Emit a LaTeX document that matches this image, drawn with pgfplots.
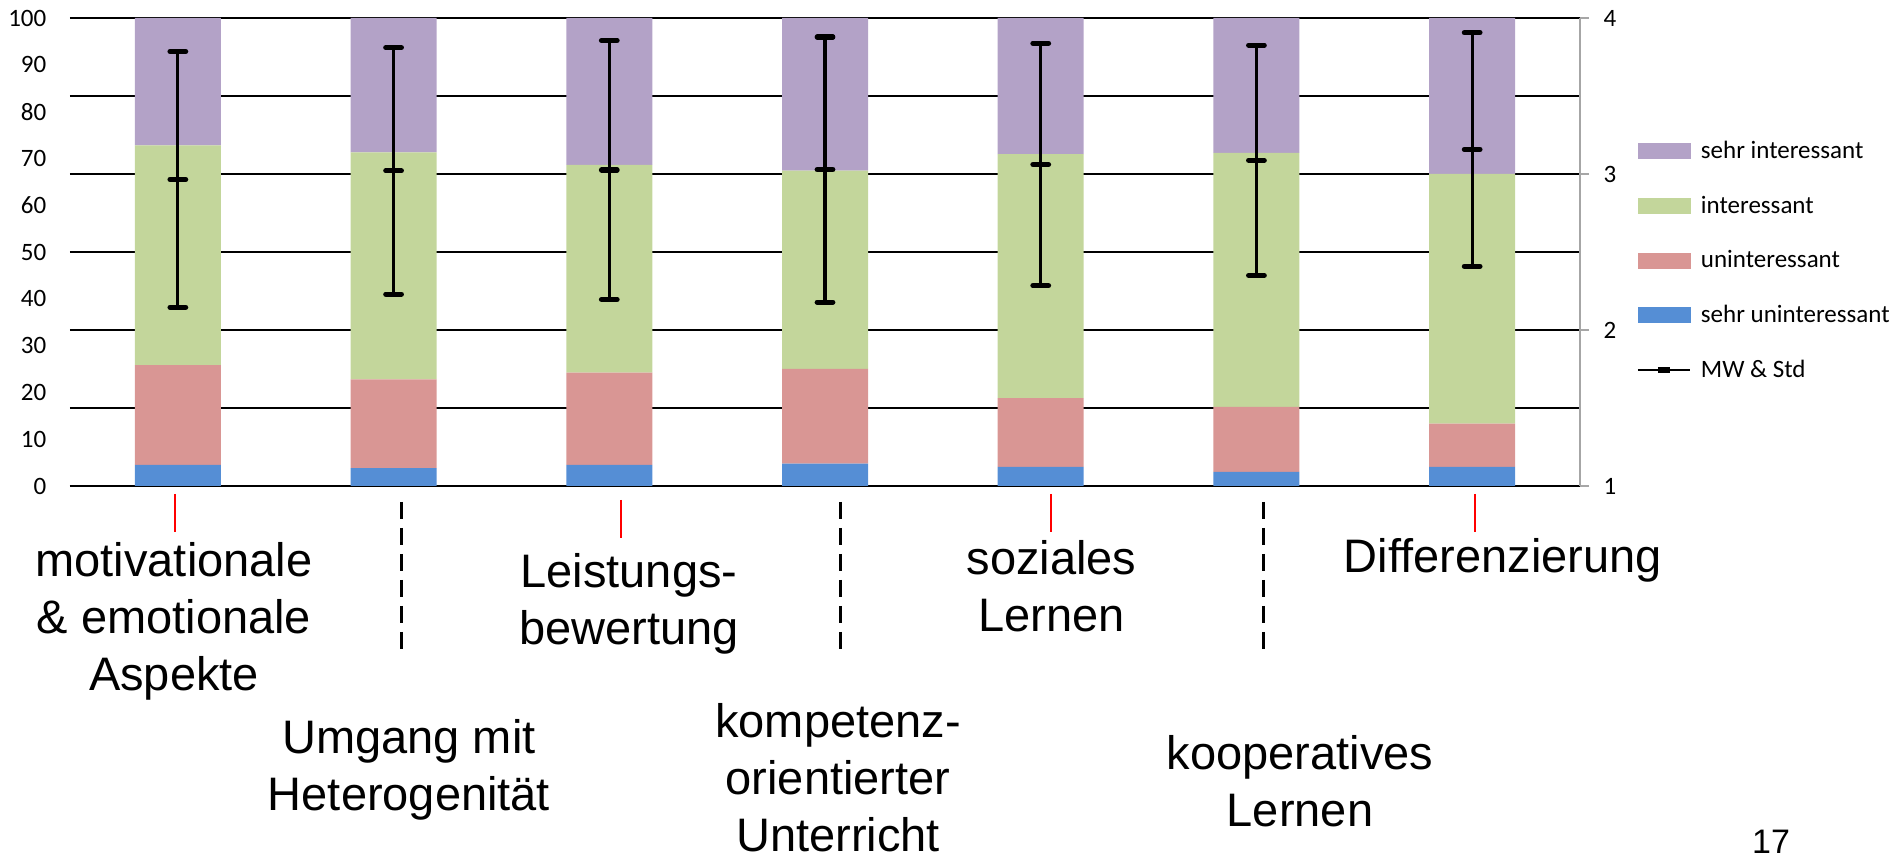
\documentclass[border=0pt]{standalone}
\usepackage{fontspec}
\setmainfont{Carlito}
\newfontfamily\labfont{Liberation Sans}
\usepackage{pgfplots}
\pgfplotsset{compat=1.18}
\definecolor{cpurple}{HTML}{B3A2C7}
\definecolor{cgreen}{HTML}{C3D69B}
\definecolor{cred}{HTML}{D99694}
\definecolor{cblue}{HTML}{558ED5}
\definecolor{caxis}{HTML}{A6A6A6}
\begin{document}
\begin{tikzpicture}
\useasboundingbox (-35pt,-187pt) rectangle (915.5pt,243pt);
\begin{axis}[
  at={(0,0)}, anchor=south west,
  width=755pt, height=234pt, scale only axis,
  ybar stacked, bar width=43pt,
  xmin=-0.5, xmax=6.5, ymin=0, ymax=100,
  xtick=\empty,
  ytick={0,10,...,100},
  minor ytick={0,16.6667,33.3333,50,66.6667,83.3333,100},
  minor grid style={black, line width=0.9pt},
  ymajorgrids=false, yminorgrids=true,
  major tick length=0pt, minor tick length=0pt,
  axis x line*=bottom, axis y line*=left,
  x axis line style={black, line width=0.9pt, -},
  y axis line style={draw=none},
  tick label style={font=\fontsize{12.5}{15}\selectfont},
  /pgf/number format/assume math mode=true,
  yticklabel style={xshift=-8.3pt},
  clip=false,
]
\addplot[fill=cblue, draw=none] coordinates {(0,4.5) (1,3.8) (2,4.5) (3,4.8) (4,4.1) (5,3.0) (6,4.1)};
\addplot[fill=cred, draw=none] coordinates {(0,21.3) (1,19.0) (2,19.7) (3,20.2) (4,14.7) (5,13.9) (6,9.2)};
\addplot[fill=cgreen, draw=none] coordinates {(0,47.0) (1,48.5) (2,44.4) (3,42.4) (4,52.1) (5,54.3) (6,53.4)};
\addplot[fill=cpurple, draw=none] coordinates {(0,27.2) (1,28.7) (2,31.4) (3,32.6) (4,29.1) (5,28.8) (6,33.3)};
\end{axis}
\begin{axis}[
  at={(0,0)}, anchor=south west,
  width=755pt, height=234pt, scale only axis,
  xmin=-0.5, xmax=6.5, ymin=1, ymax=4,
  axis x line=none, axis y line*=right,
  y axis line style={color=caxis, line width=0.85pt, -},
  ytick={1,2,3,4},
  ytick style={color=caxis, line width=0.85pt},
  tick align=outside, major tick length=4.5pt,
  tick label style={font=\fontsize{12.5}{15}\selectfont},
  /pgf/number format/assume math mode=true,
  yticklabel style={xshift=3.8pt},
  clip=false,
  legend cell align=left,
  legend style={at={(1.0377,0.7455)}, anchor=north west, draw=none, fill=none,
    inner sep=0pt, outer sep=0pt, row sep=13.2pt,
    font=\fontsize{12.5}{15}\selectfont,
    /tikz/every odd column/.append style={column sep=3pt}},
]
\addlegendimage{legend image code/.code={\fill[cpurple] (0pt,-3.75pt) rectangle (26pt,3.75pt);}}
\addlegendentry{sehr interessant}
\addlegendimage{legend image code/.code={\fill[cgreen] (0pt,-3.75pt) rectangle (26pt,3.75pt);}}
\addlegendentry{interessant}
\addlegendimage{legend image code/.code={\fill[cred] (0pt,-3.75pt) rectangle (26pt,3.75pt);}}
\addlegendentry{uninteressant}
\addlegendimage{legend image code/.code={\fill[cblue] (0pt,-3.75pt) rectangle (26pt,3.75pt);}}
\addlegendentry{sehr uninteressant}
\addplot[black, only marks, mark=-, mark size=3.9pt, mark options={line width=2.6pt, line cap=round},
  legend image code/.code={\draw[black,line width=1pt] (0pt,0pt) -- (26pt,0pt); \draw[black,line width=2.6pt] (10pt,0pt) -- (16pt,0pt);},
  error bars/.cd, y dir=both, y explicit, error mark=|,
  error mark options={black, line width=2.6pt, mark size=3.9pt, line cap=round},
  error bar style={black, line width=1.6pt}]
  table[x=x, y=m, y error=s] {
x m s
0 2.965 0.82
1 3.020 0.79
2 3.026 0.83
3 3.028 0.85
4 3.061 0.777
5 3.088 0.738
6 3.157 0.749
};
\addlegendentry{MW \& Std}
\end{axis}
% decorations under the chart
\foreach \xx/\ya/\yb in {52.5/-4/-23, 275.5/-7/-26, 490.5/-4/-23, 702.5/-4/-23}
  \draw[red, line width=1.25pt] (\xx pt,\ya pt) -- (\xx pt,\yb pt);
\foreach \xx in {165.5, 385, 596.75}
  \draw[black, line width=1.5pt, dash pattern=on 8.5pt off 4.5pt] (\xx pt,-8pt) -- (\xx pt,-86pt);
\begin{scope}[every node/.style={font=\labfont\fontsize{23.5}{28.5}\selectfont, align=center, anchor=base, inner sep=0pt}]
\node at (52pt,-102.35pt) {motivationale\\\& emotionale\\Aspekte};
\node at (169.5pt,-162.5pt) {Umgang mit\\Heterogenität};
\node at (279.5pt,-79.5pt) {Leistungs-\\bewertung};
\node at (384pt,-183pt) {kompetenz-\\orientierter\\Unterricht};
\node at (490.8pt,-73pt) {soziales\\Lernen};
\node at (615pt,-170.5pt) {kooperatives\\Lernen};
\node at (716.4pt,-43.5pt) {Differenzierung};
\node[font=\labfont\fontsize{17}{20}\selectfont] at (850.5pt,-184pt) {17};
\end{scope}
\end{tikzpicture}
\end{document}
